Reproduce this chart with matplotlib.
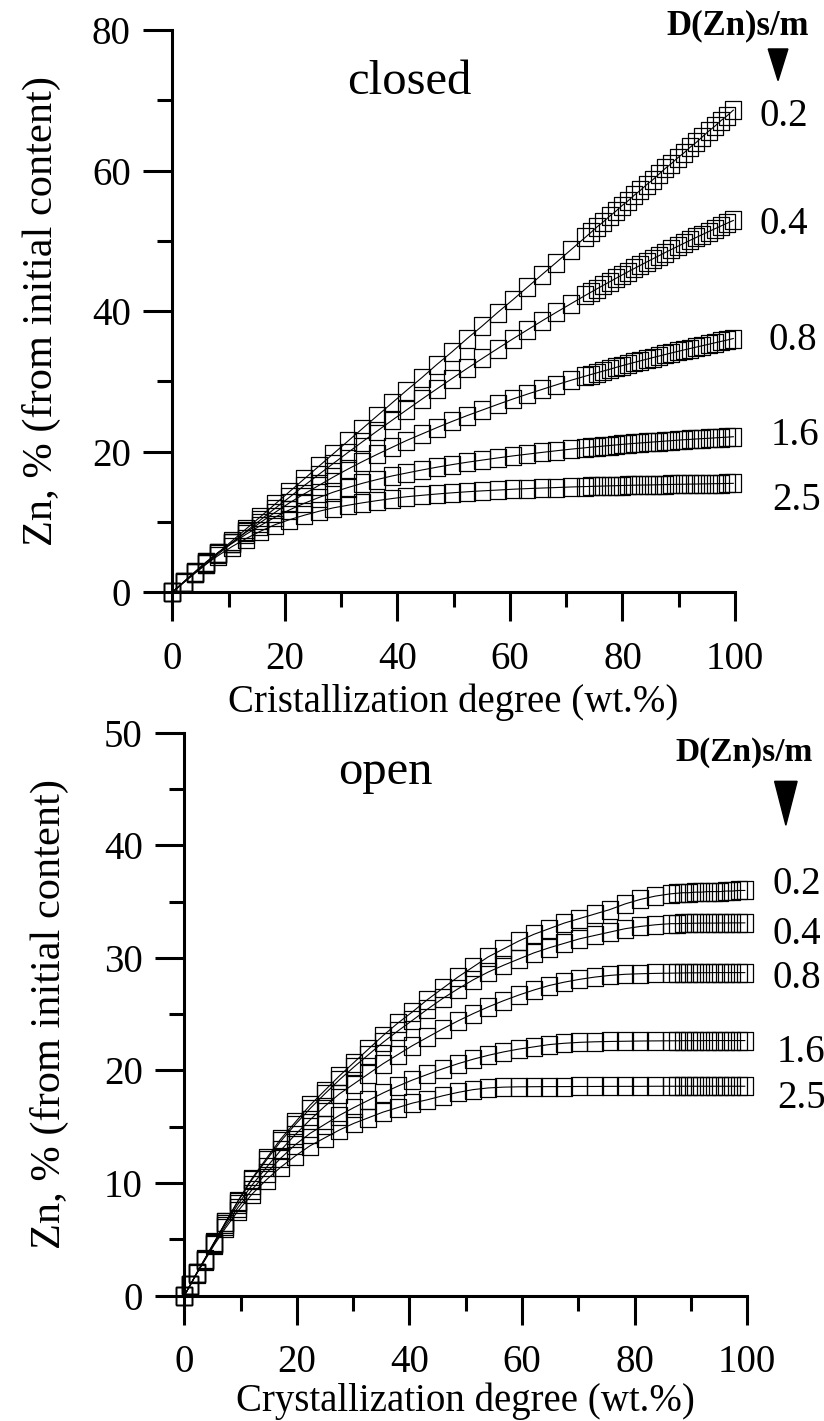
import matplotlib.pyplot as plt
from matplotlib.patches import Polygon
from matplotlib.ticker import MultipleLocator
from matplotlib.transforms import ScaledTranslation

plt.rcParams['font.family'] = ['Liberation Serif', 'DejaVu Serif']

# ---- closed system ----
closed_x = [0, 2, 4, 6, 8.1, 10.6, 13.1, 15.6, 18.2, 20.8, 23.4, 26, 28.6, 31.2, 33.8,
            36.4, 39, 41.6, 44.3, 47, 49.7, 52.4, 55.1, 57.8, 60.5, 63.1, 65.7, 68.2,
            70.8, 73.4, 74.4, 75.5, 76.6, 77.7, 78.8, 79.9, 81, 82.1, 83.2, 84.3, 85.4,
            86.5, 87.6, 88.7, 89.8, 90.9, 92, 93.1, 94.2, 95.3, 96.4, 97.5, 98.6, 99.7]
closed_02 = [0, 1.4, 2.8, 4.1, 5.6, 7.3, 9.0, 10.7, 12.5, 14.3, 16.1, 17.9, 19.7, 21.5,
             23.3, 25.1, 26.9, 28.7, 30.5, 32.4, 34.2, 36.1, 37.9, 39.8, 41.6, 43.4, 45.2,
             46.9, 48.7, 50.5, 51.2, 52.0, 52.7, 53.5, 54.2, 55.0, 55.7, 56.5, 57.2, 58.0,
             58.7, 59.5, 60.3, 61.0, 61.8, 62.5, 63.3, 64.0, 64.8, 65.6, 66.3, 67.1, 67.8, 68.6]
closed_04 = [0, 1.35, 2.68, 4.01, 5.39, 7.03, 8.65, 10.25, 11.9, 13.5, 15.15, 16.74, 18.32,
             19.88, 21.42, 22.94, 24.44, 25.92, 27.44, 28.93, 30.4, 31.85, 33.27, 34.66,
             36.04, 37.33, 38.61, 39.81, 41.03, 42.24, 42.69, 43.19, 43.68, 44.16, 44.65,
             45.13, 45.6, 46.07, 46.53, 46.99, 47.44, 47.89, 48.34, 48.78, 49.21, 49.64,
             50.07, 50.48, 50.9, 51.31, 51.71, 52.11, 52.51, 52.9]
closed_08 = [0, 1.44, 2.86, 4.26, 5.6, 7.07, 8.53, 9.89, 11.33, 12.71, 13.98, 15.18, 16.39,
             17.52, 18.6, 19.62, 20.6, 21.58, 22.5, 23.42, 24.3, 25.14, 25.93, 26.72, 27.49,
             28.19, 28.86, 29.5, 30.15, 30.75, 30.98, 31.23, 31.48, 31.72, 31.98, 32.23,
             32.47, 32.7, 32.93, 33.16, 33.39, 33.61, 33.83, 34.05, 34.26, 34.47, 34.68,
             34.88, 35.08, 35.28, 35.49, 35.69, 35.89, 36.1]
closed_16 = [0, 1.47, 2.9, 4.3, 5.65, 6.94, 8.24, 9.46, 10.66, 11.71, 12.64, 13.47, 14.24,
             14.9, 15.51, 16.04, 16.54, 16.96, 17.39, 17.79, 18.16, 18.5, 18.81, 19.11, 19.4,
             19.65, 19.9, 20.13, 20.36, 20.56, 20.64, 20.72, 20.8, 20.88, 20.96, 21.04,
             21.11, 21.18, 21.25, 21.31, 21.38, 21.44, 21.51, 21.57, 21.64, 21.7, 21.75,
             21.81, 21.86, 21.91, 21.97, 22.02, 22.07, 22.13]
closed_25 = [0, 1.42, 2.74, 3.98, 5.19, 6.49, 7.64, 8.66, 9.6, 10.32, 10.95, 11.51, 12.01,
             12.38, 12.73, 13.04, 13.33, 13.59, 13.79, 13.98, 14.15, 14.3, 14.43, 14.54,
             14.66, 14.75, 14.83, 14.9, 14.98, 15.04, 15.06, 15.09, 15.11, 15.14, 15.16,
             15.19, 15.21, 15.23, 15.25, 15.26, 15.28, 15.3, 15.32, 15.34, 15.36, 15.37,
             15.39, 15.4, 15.42, 15.43, 15.45, 15.46, 15.48, 15.5]

# ---- open system ----
open_x = [0, 1, 2.2, 3.6, 5.3, 7.3, 9.5, 12, 14.6, 17.1, 19.7, 22.3, 24.9, 27.5, 30.1,
          32.7, 35.3, 37.9, 40.5, 43.2, 45.9, 48.6, 51.3, 54, 56.7, 59.4, 62.1, 64.8, 67.5,
          70.2, 72.9, 75.6, 78.3, 81, 83.7, 86.4, 87.5, 88.6, 89.7, 90.8, 91.9, 93, 94.1,
          95.2, 96.3, 97.4, 98.5, 99.6]
open_02 = [0, 0.9, 2.0, 3.2, 4.7, 6.5, 8.4, 10.4, 12.2, 13.9, 15.4, 16.9, 18.2, 19.5, 20.7,
           21.9, 23.1, 24.2, 25.2, 26.3, 27.3, 28.3, 29.2, 30.1, 30.8, 31.5, 32.1, 32.6,
           33.1, 33.5, 33.9, 34.3, 34.8, 35.2, 35.5, 35.7, 35.75, 35.8, 35.8, 35.85, 35.85,
           35.9, 35.9, 35.9, 35.95, 35.95, 36.0, 36.0]
open_04 = [0, 0.9, 2.0, 3.2, 4.7, 6.5, 8.35, 10.3, 12.05, 13.7, 15.2, 16.6, 17.9, 19.15,
           20.3, 21.4, 22.5, 23.5, 24.45, 25.45, 26.4, 27.25, 28.05, 28.75, 29.35, 29.9,
           30.45, 30.9, 31.3, 31.7, 32.0, 32.3, 32.6, 32.8, 32.95, 33.05, 33.05, 33.07,
           33.08, 33.09, 33.1, 33.1, 33.1, 33.11, 33.11, 33.12, 33.12, 33.12]
open_08 = [0, 0.9, 2.0, 3.25, 4.75, 6.4, 8.1, 9.8, 11.4, 12.9, 14.3, 15.6, 16.8, 17.9, 18.8,
           19.7, 20.6, 21.4, 22.2, 22.95, 23.7, 24.4, 25.05, 25.65, 26.2, 26.7, 27.15,
           27.55, 27.85, 28.1, 28.3, 28.45, 28.55, 28.6, 28.63, 28.65, 28.66, 28.67, 28.68,
           28.68, 28.69, 28.69, 28.7, 28.7, 28.7, 28.7, 28.7, 28.7]
open_16 = [0, 0.9, 2.0, 3.2, 4.6, 6.2, 7.8, 9.4, 10.9, 12.2, 13.4, 14.4, 15.2, 16.0, 16.7,
           17.35, 18.0, 18.6, 19.15, 19.65, 20.15, 20.6, 21.0, 21.35, 21.65, 21.9, 22.1,
           22.3, 22.42, 22.5, 22.55, 22.58, 22.6, 22.62, 22.63, 22.64, 22.64, 22.65, 22.65,
           22.65, 22.65, 22.66, 22.66, 22.66, 22.66, 22.66, 22.66, 22.66]
open_25 = [0, 0.9, 1.95, 3.1, 4.5, 6.0, 7.5, 9.0, 10.3, 11.4, 12.4, 13.3, 14.0, 14.7, 15.3,
           15.8, 16.3, 16.7, 17.1, 17.4, 17.75, 18.05, 18.3, 18.45, 18.52, 18.55, 18.56,
           18.57, 18.57, 18.58, 18.58, 18.59, 18.59, 18.59, 18.6, 18.6, 18.6, 18.6, 18.6,
           18.6, 18.6, 18.6, 18.6, 18.6, 18.6, 18.6, 18.6, 18.6]

d_labels = ['0.2', '0.4', '0.8', '1.6', '2.5']

# slightly tall open box, like the original symbols
box = [(-0.45, -0.5), (0.45, -0.5), (0.45, 0.5), (-0.45, 0.5), (-0.45, -0.5)]

fig = plt.figure(figsize=(8.24, 14.21), dpi=100)
ax1 = fig.add_axes([0.2091, 0.5832, 0.6829, 0.3957])
ax2 = fig.add_axes([0.2238, 0.0883, 0.6828, 0.3959])


def style(ax, ymax, ymaj, ymin):
    ax.set_xlim(0, 100)
    ax.set_ylim(0, ymax)
    for s in ['top', 'right']:
        ax.spines[s].set_visible(False)
    for s in ['left', 'bottom']:
        ax.spines[s].set_linewidth(2.2)
    ax.xaxis.set_major_locator(MultipleLocator(20))
    ax.xaxis.set_minor_locator(MultipleLocator(10))
    ax.yaxis.set_major_locator(MultipleLocator(ymaj))
    ax.yaxis.set_minor_locator(MultipleLocator(ymin))
    ax.tick_params(which='major', direction='out', length=21, width=2.2, labelsize=28)
    ax.tick_params(which='minor', direction='out', length=10.5, width=2.2)
    ax.tick_params(axis='x', which='major', pad=14)
    ax.tick_params(axis='y', which='major', pad=9)


def draw(ax, x, series):
    for y in series:
        ax.plot(x, y, color='k', lw=0.8, marker=box, ms=12.5, mfc='none',
                mec='k', mew=0.9, clip_on=False)


style(ax1, 80, 20, 10)
style(ax2, 50, 10, 5)
draw(ax1, closed_x, [closed_02, closed_04, closed_08, closed_16, closed_25])
draw(ax2, open_x, [open_02, open_04, open_08, open_16, open_25])

# text shifted so that digits are centred on the given value
down = ScaledTranslation(0, -9.5 / 72, fig.dpi_scale_trans)

lab_x1 = [104.3, 104.3, 105.9, 106.3, 106.7]
lab_y1 = [68.2, 52.9, 36.3, 22.9, 13.6]
for lab, xx, yy in zip(d_labels, lab_x1, lab_y1):
    ax1.text(xx, yy, lab, fontsize=28, ha='left', va='baseline',
             transform=ax1.transData + down)

lab_x2 = [104.5, 104.5, 104.5, 105.3, 105.3]
lab_y2 = [36.9, 32.45, 28.5, 21.9, 17.8]
for lab, xx, yy in zip(d_labels, lab_x2, lab_y2):
    ax2.text(xx, yy, lab, fontsize=28, ha='left', va='baseline',
             transform=ax2.transData + down)

ax1.text(42.2, 70.9, 'closed', fontsize=35, ha='center', va='baseline')
ax2.text(35.7, 45.5, 'open', fontsize=35, ha='center', va='baseline')

ax1.text(100.4, 80.6, 'D(Zn)s/m', fontsize=25, fontweight='bold', ha='center', va='center')
ax2.text(99.4, 48.25, 'D(Zn)s/m', fontsize=24, fontweight='bold', ha='center', va='center')

ax1.add_patch(Polygon([(105.9, 77.3), (109.4, 77.3), (107.65, 72.8)], closed=True,
                      fc='k', ec='k', clip_on=False))
ax2.add_patch(Polygon([(104.9, 45.7), (108.9, 45.7), (106.9, 41.8)], closed=True,
                      fc='k', ec='k', clip_on=False))

fig.text(41.5 / 824, 1 - 311 / 1421, 'Zn, % (from initial content)', rotation=90,
         ha='center', va='center', fontsize=30.5)
fig.text(49 / 824, 1 - 1014 / 1421, 'Zn, % (from initial content)', rotation=90,
         ha='center', va='center', fontsize=30.5)
fig.text(453.6 / 824, 1 - 711.5 / 1421, 'Cristallization degree (wt.%)',
         ha='center', va='baseline', fontsize=28)
fig.text(465.7 / 824, 1 - 1411.5 / 1421, 'Crystallization degree (wt.%)',
         ha='center', va='baseline', fontsize=28)

fig.savefig('out.png', dpi=100)
